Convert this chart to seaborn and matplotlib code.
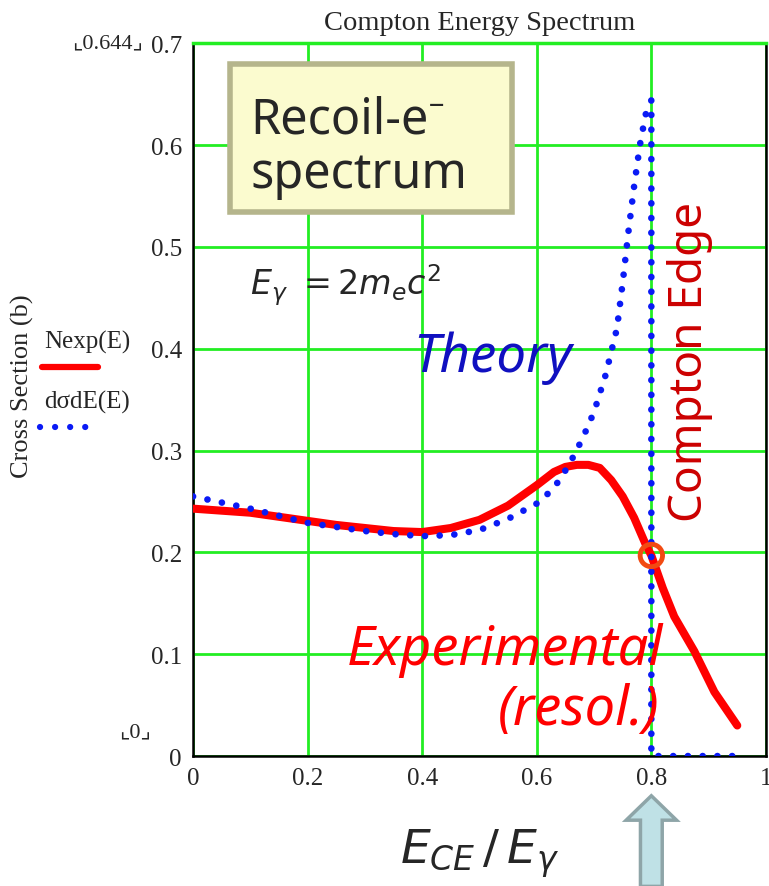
import numpy as np
import pandas as pd
import matplotlib
matplotlib.use("Agg")
import matplotlib.pyplot as plt
import seaborn as sns
from matplotlib.patches import FancyBboxPatch, FancyArrow
from matplotlib.lines import Line2D

# --- data ---
exp_x = [0.00, 0.05, 0.10, 0.15, 0.20, 0.25, 0.30, 0.35, 0.40, 0.45, 0.50,
         0.55, 0.60, 0.63, 0.65, 0.67, 0.69, 0.71, 0.73, 0.75, 0.77, 0.79,
         0.80, 0.82, 0.84, 0.875, 0.91, 0.95]
exp_y = [0.243, 0.241, 0.239, 0.235, 0.231, 0.227, 0.224, 0.221, 0.220, 0.224, 0.232,
         0.246, 0.266, 0.279, 0.284, 0.286, 0.286, 0.283, 0.271, 0.255, 0.234, 0.208,
         0.197, 0.165, 0.137, 0.103, 0.063, 0.030]

theory_x = [0.00, 0.05, 0.10, 0.15, 0.20, 0.25, 0.30, 0.35, 0.40, 0.45, 0.50,
            0.55, 0.60, 0.62, 0.64, 0.66, 0.68, 0.70, 0.72, 0.74, 0.75, 0.76,
            0.77, 0.78, 0.79, 0.80, 0.80, 0.95]
theory_y = [0.255, 0.249, 0.243, 0.236, 0.229, 0.225, 0.221, 0.218, 0.216, 0.217, 0.222,
            0.233, 0.248, 0.258, 0.271, 0.290, 0.312, 0.338, 0.374, 0.420, 0.465, 0.515,
            0.560, 0.600, 0.630, 0.644, 0.0, 0.0]

edge_x = 0.8
edge_y = 0.197

x_ticks = [0, 0.2, 0.4, 0.6, 0.8, 1.0]
x_labels = ["0", "0.2", "0.4", "0.6", "0.8", "1"]
y_ticks = [0, 0.1, 0.2, 0.3, 0.4, 0.5, 0.6, 0.7]
y_labels = ["0", "0.1", "0.2", "0.3", "0.4", "0.5", "0.6", "0.7"]

sns.set_style("white")
plt.rcParams['font.family'] = ['Liberation Serif', 'DejaVu Sans']
plt.rcParams['mathtext.fontset'] = 'dejavusans'

fig = plt.figure(figsize=(7.69, 8.87), dpi=100)
ax = fig.add_axes([0.251, 0.1465, 0.745, 0.8035])

green = '#22ee22'
ax.set_xlim(0, 1)
ax.set_ylim(0, 0.7)
ax.set_xticks(x_ticks)
ax.set_xticklabels(x_labels)
ax.set_yticks(y_ticks)
ax.set_yticklabels(y_labels)
ax.tick_params(length=0, labelsize=18, pad=8)
ax.grid(True, color=green, lw=2)
ax.set_axisbelow(True)
for s in ['left', 'bottom', 'right']:
    ax.spines[s].set_color('black')
    ax.spines[s].set_linewidth(1.8)
ax.spines['top'].set_color(green)
ax.spines['top'].set_linewidth(2.5)

sns.lineplot(x=exp_x, y=exp_y, ax=ax, estimator=None, sort=False,
             color='#ff0000', lw=5.8, zorder=3)
sns.lineplot(x=theory_x, y=theory_y, ax=ax, estimator=None, sort=False,
             color='#0a1af5', lw=4.8, linestyle=(0, (0.01, 2.2)),
             dash_capstyle='round', zorder=4)
ax.scatter([edge_x], [edge_y], s=260, facecolors='none', edgecolors='#f24a12',
           linewidths=3.5, zorder=5)

ax.set_title('Compton Energy Spectrum', fontsize=20.5, pad=10)
ax.set_xlabel(r'$E_{CE}\,/\,E_{\gamma}$', fontsize=34, labelpad=27)
ax.set_ylabel('')

# y label and legend on the left
fig.text(0.029, 0.565, 'Cross Section (b)', rotation=90, fontsize=19,
         ha='center', va='center')
fig.text(0.058, 0.614, 'Nexp(E)', fontsize=18, ha='left', va='center')
fig.add_artist(Line2D([0.055, 0.127], [0.585, 0.585], color='#ff0000', lw=4.5,
                      transform=fig.transFigure))
fig.text(0.058, 0.546, 'd\u03c3dE(E)', fontsize=18, ha='left', va='center')
fig.add_artist(Line2D([0.052, 0.112], [0.517, 0.517], color='#0a1af5', lw=4.5,
                      linestyle=(0, (0.01, 2.4)), dash_capstyle='round',
                      transform=fig.transFigure))

# range placeholders
fig.text(0.094, 0.950, '\u231e0.644\u231f', fontsize=16, ha='left', va='center')
fig.text(0.155, 0.174, '\u231e0\u231f', fontsize=16, ha='left', va='center')

# annotation box
box = FancyBboxPatch((0.065, 0.534), 0.492, 0.146, boxstyle='square,pad=0',
                     facecolor='#fbfbcf', edgecolor='#b5b58c', lw=4, zorder=6)
ax.add_patch(box)
ax.text(0.1, 0.598, 'Recoil-e\u207b\nspectrum', fontsize=35, family='Noto Sans',
        ha='left', va='center', linespacing=1.12, zorder=7)
ax.text(0.1, 0.463, r'$E_{\gamma}\ =2m_{e}c^{2}$', fontsize=24,
        ha='left', va='center', zorder=7)
ax.text(0.385, 0.392, 'Theory', fontsize=38, style='italic', family='Noto Sans',
        color='#1010c0', ha='left', va='center', zorder=7)
ax.text(0.868, 0.388, 'Compton Edge', fontsize=33, family='Noto Sans',
        color='#cc0000', rotation=90, ha='center', va='center', zorder=7)
ax.text(0.82, 0.105, 'Experimental', fontsize=39, style='italic', family='Noto Sans',
        color='#ff0000', ha='right', va='center', zorder=7)
ax.text(0.815, 0.046, '(resol.)', fontsize=39, style='italic', family='Noto Sans',
        color='#ff0000', ha='right', va='center', zorder=7)

# arrow pointing at the edge below the axis
arrow = FancyArrow(0.8, -0.128, 0, 0.089, width=0.038, head_width=0.088,
                   head_length=0.024, length_includes_head=True,
                   facecolor='#bfe1e6', edgecolor='#8ea5a8', lw=2.5,
                   clip_on=False, zorder=8)
ax.add_patch(arrow)

fig.savefig('out.png', dpi=100)
